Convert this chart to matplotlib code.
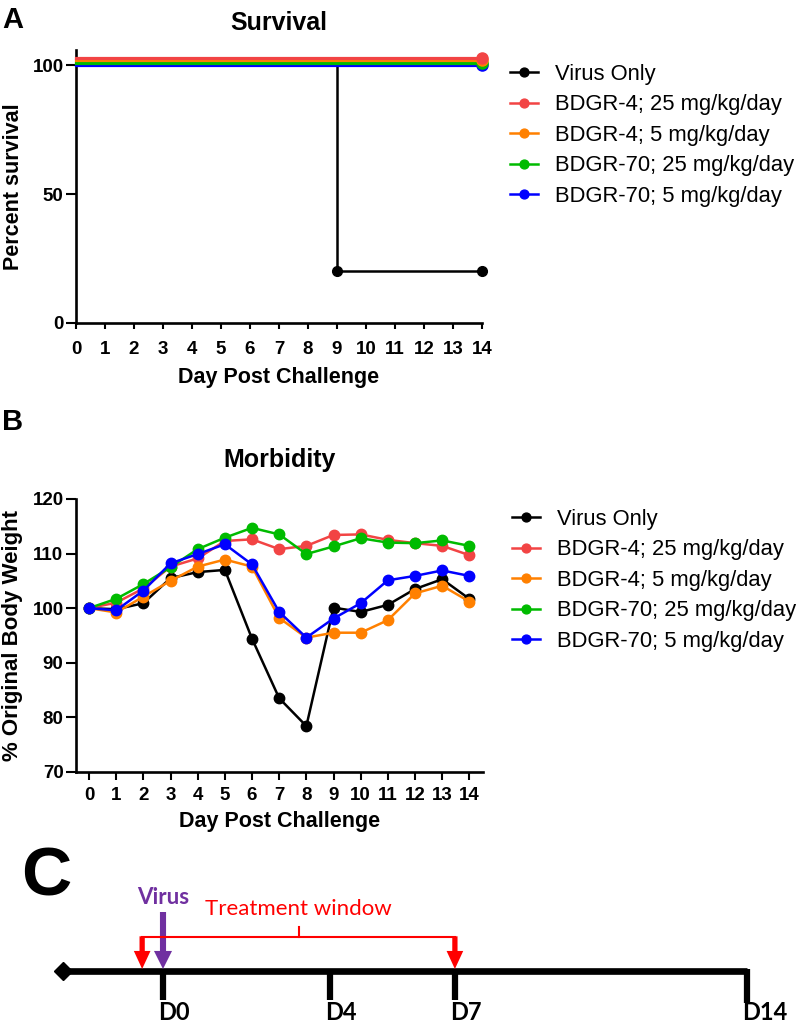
import numpy as np
import matplotlib.pyplot as plt
import matplotlib.transforms as mtransforms

plt.rcParams['font.family'] = ['Liberation Sans', 'DejaVu Sans']

# ---- data ----
groups = ["Virus Only", "BDGR-4; 25 mg/kg/day", "BDGR-4; 5 mg/kg/day",
          "BDGR-70; 25 mg/kg/day", "BDGR-70; 5 mg/kg/day"]
colors = ["#000000", "#F24444", "#FF8000", "#00BB00", "#0000FF"]

surv_days_virus = [0, 9, 14]
surv_virus = [100, 20, 20]
surv_days_treated = [0, 14]
surv_treated = [100, 100]

days = list(range(15))
weight_virus = [100, 99.8, 100.9, 105.5, 106.6, 107.0, 94.4, 83.5, 78.4, 100.1, 99.3, 100.6, 103.5, 105.3, 101.7]
weight_b4_25 = [100, 101.0, 103.6, 107.6, 109.1, 112.3, 112.6, 110.8, 111.4, 113.4, 113.5, 112.5, 111.9, 111.4, 109.7]
weight_b4_5 = [100, 99.2, 102.1, 105.0, 107.6, 108.9, 107.6, 98.2, 94.6, 95.5, 95.5, 97.8, 102.7, 104.1, 101.2]
weight_b70_25 = [100, 101.7, 104.4, 107.5, 110.8, 112.9, 114.7, 113.5, 109.9, 111.3, 112.8, 112.0, 111.9, 112.4, 111.4]
weight_b70_5 = [100, 99.6, 103.2, 108.2, 109.9, 111.7, 108.0, 99.3, 94.6, 98.1, 100.9, 105.1, 105.9, 106.9, 105.9]
weights = [weight_virus, weight_b4_25, weight_b4_5, weight_b70_25, weight_b70_5]

timeline_days = [0, 4, 7, 14]
timeline_labels = ["D0", "D4", "D7", "D14"]
virus_day = 0
treat_start, treat_end = -0.5, 7
timeline_start = -2.4

fig = plt.figure(figsize=(8, 10.23), dpi=100)


def style_axes(ax):
    for s in ["top", "right"]:
        ax.spines[s].set_visible(False)
    for s in ["left", "bottom"]:
        ax.spines[s].set_linewidth(1.9)
    ax.tick_params(axis="both", width=1.5, labelsize=13.5)
    for lab in ax.get_xticklabels() + ax.get_yticklabels():
        lab.set_fontweight("bold")


# ---- A: survival ----
axA = fig.add_axes([0.095, 0.6846, 0.5075, 0.2666])
axA.plot(surv_days_virus, surv_virus, drawstyle="steps-post", color="black",
         lw=1.8, marker="o", ms=7, markevery=[1, 2], zorder=2, clip_on=False)
offsets_px = [None, 7.5, 5.0, 2.5, 0.0]
for i in range(1, 5):
    tr = axA.transData + mtransforms.ScaledTranslation(0, offsets_px[i] / 100, fig.dpi_scale_trans)
    axA.plot(surv_days_treated, surv_treated, color=colors[i], lw=2.3, marker="o",
             ms=8, markevery=[1], transform=tr, zorder=3 + (4 - i), clip_on=False)
axA.set_xlim(0, 14)
axA.set_ylim(0, 106)
axA.set_xticks(range(15))
axA.set_yticks([0, 50, 100])
style_axes(axA)
axA.tick_params(axis="y", length=7, pad=2)
axA.tick_params(axis="x", length=4.5, pad=9)
axA.set_xlabel("Day Post Challenge", fontsize=15.5, fontweight="bold", labelpad=6)
axA.set_ylabel("Percent survival", fontsize=15.5, fontweight="bold", labelpad=6)
axA.set_title("Survival", fontsize=18, fontweight="bold", pad=14)

# ---- B: morbidity ----
axB = fig.add_axes([0.095, 0.2454, 0.509, 0.2669])
for i in range(5):
    axB.plot(days, weights[i], color=colors[i], lw=1.8, marker="o", ms=7.5,
             label=groups[i], zorder=2 + i)
axB.set_xlim(-0.48, 14.51)
axB.set_ylim(70, 120)
axB.set_xticks(range(15))
axB.set_yticks(range(70, 121, 10))
style_axes(axB)
axB.tick_params(axis="y", length=7, pad=2)
axB.tick_params(axis="x", length=6, pad=5)
axB.set_xlabel("Day Post Challenge", fontsize=15.5, fontweight="bold", labelpad=5)
axB.set_ylabel("% Original Body Weight", fontsize=16, fontweight="bold", labelpad=7)
axB.set_title("Morbidity", fontsize=18, fontweight="bold", pad=23)

# legends
handles, labels = axB.get_legend_handles_labels()
leg_kw = dict(loc="upper left", frameon=False, fontsize=15.8, borderpad=0, borderaxespad=0,
              handlelength=1.27, handletextpad=0.77, labelspacing=0.43, markerscale=0.85)
fig.legend(handles, labels, bbox_to_anchor=(0.6375, 0.9374), **leg_kw)
fig.legend(handles, labels, bbox_to_anchor=(0.64, 0.5024), **leg_kw)

fig.text(0.003, 0.980, "A", fontsize=21, fontweight="bold", va="center")
fig.text(0.003, 0.5875, "B", fontsize=21, fontweight="bold", va="center")
fig.text(0.026, 0.142, "C", fontsize=50, fontweight="bold", va="center",
         family=["Liberation Sans"])

# ---- C: timeline ----
px_per_day = 41.7
axC = fig.add_axes([0, 0, 1, 163 / 1023])
axC.set_xlim(-163 / px_per_day, (800 - 163) / px_per_day)
axC.set_ylim(163, 0)
axC.axis("off")

line_y = 111
axC.plot([timeline_start, timeline_days[-1]], [line_y, line_y], color="black", lw=4.8,
         solid_capstyle="butt", zorder=2)
axC.plot([timeline_start], [line_y], marker="D", ms=9, color="black", zorder=2)
for d, lab in zip(timeline_days, timeline_labels):
    bottom = 143 if d == timeline_days[-1] else 140
    axC.plot([d, d], [line_y - 2, bottom], color="black", lw=4.5, solid_capstyle="butt")
    axC.text(d - 5 / px_per_day, 160, lab, fontsize=17, fontweight="bold",
             family=["Lato", "DejaVu Sans"], ha="left", va="baseline")

purple = "#7030A0"
red = "#FF0000"
axC.annotate("", xy=(virus_day, line_y - 2), xytext=(virus_day, 52),
             arrowprops=dict(arrowstyle="simple,head_length=0.65,head_width=0.65,tail_width=0.22",
                             mutation_scale=20, color=purple, lw=0, shrinkA=0, shrinkB=0))
axC.text(virus_day, 38, "Virus", color=purple, fontsize=16, fontweight="bold",
         family=["Lato", "DejaVu Sans"], ha="center", va="center")

bracket_y = 77
axC.plot([treat_start, treat_end], [bracket_y, bracket_y], color=red, lw=1.5, zorder=3)
mid = (treat_start + treat_end) / 2
axC.plot([mid, mid], [bracket_y, bracket_y - 10], color=red, lw=1.5)
for d in [treat_start, treat_end]:
    axC.annotate("", xy=(d, line_y - 2), xytext=(d, bracket_y - 0.7),
                 arrowprops=dict(arrowstyle="simple,head_length=0.65,head_width=0.6,tail_width=0.19",
                                 mutation_scale=20, color=red, lw=0, shrinkA=0, shrinkB=0),
                 zorder=4)
axC.text(mid, 49, "Treatment window", color=red, fontsize=16,
         family=["Lato", "DejaVu Sans"], ha="center", va="center")

fig.savefig("out.png", dpi=100)
